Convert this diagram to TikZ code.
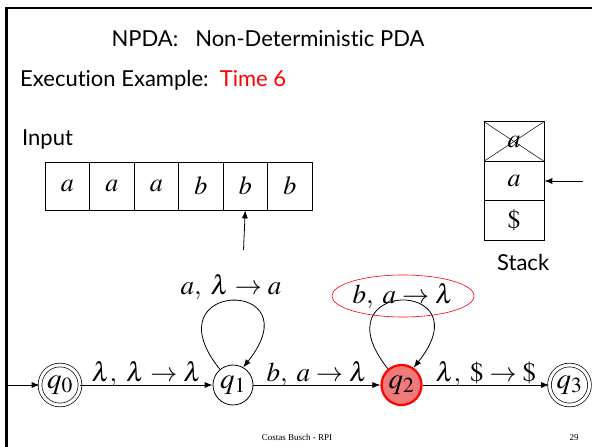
\documentclass[tikz,border=0pt]{standalone}
\usepackage{amssymb,amsmath}
\usepackage{mathptmx}
\usepackage{fontspec}
\setmainfont{Liberation Serif}
\newfontfamily\slidefont[Ligatures=NoCommon]{Lato}
\usepackage{tikz}
\usetikzlibrary{arrows.meta}
\usetikzlibrary{shapes.geometric}
\usetikzlibrary{positioning}
\definecolor{activefill}{RGB}{240,122,122}
\tikzset{
    vertex/.style={circle, draw=black, line width=0.8pt, minimum size=40pt, inner sep=0pt,
        font=\fontsize{29}{29}\selectfont},
    final/.style={vertex, double, double distance=3pt, line width=0.7pt},
    current/.style={vertex, draw=red, fill=activefill, line width=2.2pt},
    trans/.style={draw=black, line width=0.8pt, -{Latex[length=8pt,width=6pt]}},
    tape/.style={draw=black, line width=0.7pt, minimum width=44.5pt, minimum height=48pt,
        inner sep=0pt, font=\fontsize{26}{26}\selectfont},
    stackcell/.style={draw=black, line width=0.7pt, minimum width=60pt, minimum height=39.3pt,
        inner sep=0pt, font=\fontsize{26}{26}\selectfont},
    label/.style={font=\fontsize{27}{27}\selectfont, inner sep=1pt},
    heading/.style={font=\slidefont\fontsize{22}{26}\selectfont, inner sep=0pt}
}

\begin{document}
\begin{tikzpicture}[x=1pt,y=1pt]
	\useasboundingbox (0,0) rectangle (592,447);
	% slide frame
	\draw[line width=2.6pt] (6.5,0) -- (6.5,439) -- (592,439);

	% headings
	\node[heading, anchor=base] (title) at (268,400) {NPDA:\ \ \ Non-Deterministic PDA};
	\node[heading, anchor=base west] (exec) at (20,360) {Execution Example:\ \ \textcolor{red}{Time 6}};
	\node[heading, anchor=base west] (input) at (22,301) {Input};
	\node[heading, anchor=base west] (stack) at (497,176) {Stack};

	% input tape
	\foreach \s [count=\i] in {a,a,a,b,b,b}
		\node[tape] (c\i) at ({45+44.5*(\i-0.5)},261) {$\s$};
	\coordinate (head) at (243.5,197);
	\draw[trans] (head) -- (c5.south);

	% stack contents
	\node[stackcell] (s1) at (514,305.5) {$a$};
	\node[stackcell] (s2) at (514,266) {$a$};
	\node[stackcell] (s3) at (514,226.5) {$\$$};
	\draw[line width=0.5pt] (s1.north west) -- (s1.south east);
	\draw[line width=0.5pt] (s1.south west) -- (s1.north east);
	\coordinate (top) at (583,266);
	\draw[trans] (top) -- (s2.east);

	% states
	\node[final] (q0) at (60,62) {$q_0$};
	\node[vertex] (q1) at (233,62) {$q_1$};
	\node[current] (q2) at (401.5,62) {$q_2$};
	\node[final] (q3) at (569.5,62) {$q_3$};
	\coordinate (start) at (6.5,62);

	% transitions
	\draw[trans] (start) -- (q0);
	\draw[trans] (q0) -- node[label, above, yshift=-3pt] {$\lambda,\;\lambda\rightarrow\lambda$} (q1);
	\draw[trans] (q1) -- node[label, above, yshift=-3pt] {$b,\;a\rightarrow\lambda$} (q2);
	\draw[trans] (q2) -- node[label, above, yshift=-3pt] {$\lambda,\;\$\rightarrow\$$} (q3);
	\draw[trans] (q1.130) .. controls +(-72,90) and +(72,90) .. (q1.60);
	\draw[trans] (q2.130) .. controls +(-72,90) and +(72,90) .. (q2.55);
	\node[label, anchor=base] (l1) at (231,152) {$a,\;\lambda\rightarrow a$};
	\node[label, ellipse, draw=red, line width=0.6pt, minimum width=134pt, minimum height=42pt,
		inner sep=0pt] (l2) at (403,151) {$b,\;a\rightarrow\lambda$};

	% footer
	\node[font=\fontsize{9}{9}\selectfont, anchor=base] (author) at (297,6) {Costas Busch - RPI};
	\node[font=\fontsize{9}{9}\selectfont, anchor=base] (page) at (574,6) {29};
\end{tikzpicture}
\end{document}
